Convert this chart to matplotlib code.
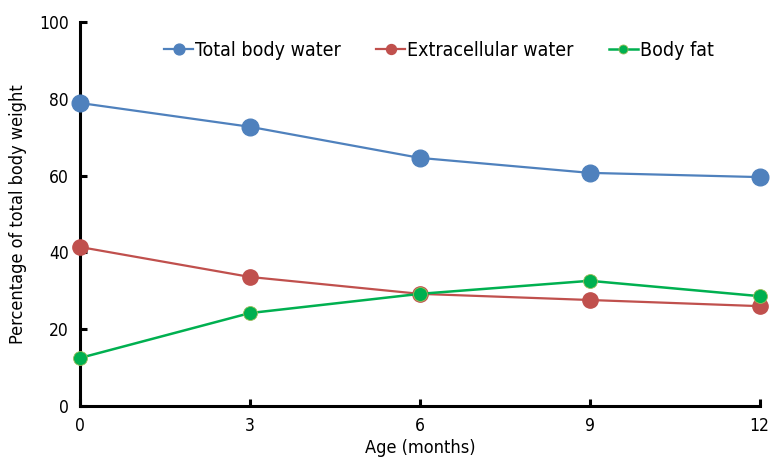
import matplotlib
matplotlib.use("Agg")
import matplotlib.pyplot as plt

ages = [0, 3, 6, 9, 12]
total_body_water = [78.9, 72.7, 64.6, 60.7, 59.6]
extracellular_water = [41.4, 33.6, 29.2, 27.6, 26.0]
body_fat = [12.5, 24.2, 29.2, 32.6, 28.6]
x_ticks = [0, 3, 6, 9, 12]
y_ticks = [0, 20, 40, 60, 80, 100]

plt.rcParams['font.family'] = ['DejaVu Sans']
plt.rcParams['font.stretch'] = 'condensed'

fig = plt.figure(figsize=(7.72, 4.57), dpi=100)
ax = fig.add_axes([0.1036, 0.1116, 0.8804, 0.8404])

ax.plot(ages, total_body_water, color='#4f81bd', lw=1.6, marker='o', ms=12,
        label='Total body water', clip_on=False, zorder=3)
ax.plot(ages, extracellular_water, color='#c0504d', lw=1.6, marker='o', ms=11,
        label='Extracellular water', clip_on=False, zorder=3)
ax.plot(ages, body_fat, color='#00b050', lw=1.8, marker='o', ms=10,
        markeredgecolor='#9bbb59', markeredgewidth=0.6,
        label='Body fat', clip_on=False, zorder=4)

ax.set_xlim(0, 12)
ax.set_ylim(0, 100)
ax.set_xticks(x_ticks)
ax.set_yticks(y_ticks)
for s in ['top', 'right']:
    ax.spines[s].set_visible(False)
for s in ['left', 'bottom']:
    ax.spines[s].set_linewidth(2.2)
ax.tick_params(direction='in', length=5, width=2.2, labelsize=12.5, pad=8)

ax.set_xlabel('Age (months)', fontsize=13, labelpad=3)
ax.set_ylabel('Percentage of total body weight', fontsize=13, labelpad=9)

leg = ax.legend(loc='upper center', bbox_to_anchor=(0.528, 0.997), ncol=3, frameon=False,
                fontsize=14, handlelength=1.5, handletextpad=0.1, columnspacing=1.8,
                markerscale=0.65)

fig.savefig('out.png', dpi=100)
